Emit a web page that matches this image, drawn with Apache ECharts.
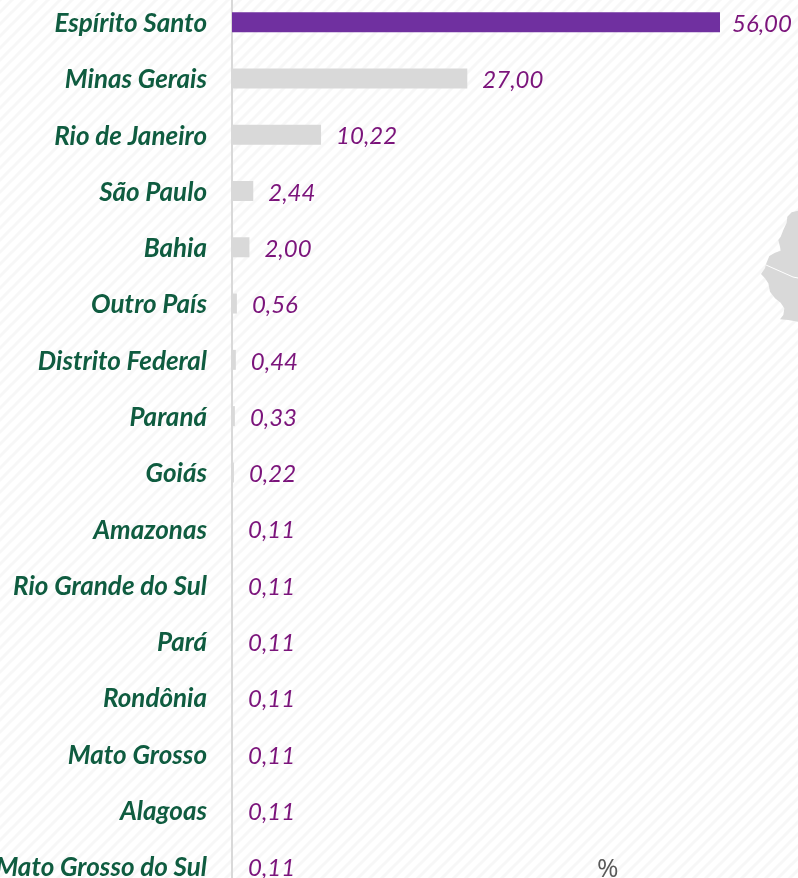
<!DOCTYPE html>
<html><head><meta charset="utf-8">
<style>html,body{margin:0;padding:0;background:#fff}#c{width:798px;height:878px}</style>
<script src="https://cdn.jsdelivr.net/npm/echarts@6/dist/echarts.min.js"></script></head>
<body><div id="c"></div>
<script>
const categories = ['Espírito Santo','Minas Gerais','Rio de Janeiro','São Paulo','Bahia','Outro País','Distrito Federal','Paraná','Goiás','Amazonas','Rio Grande do Sul','Pará','Rondônia','Mato Grosso','Alagoas','Mato Grosso do Sul'];
const values = [56.00,27.00,10.22,2.44,2.00,0.56,0.44,0.33,0.22,0.11,0.11,0.11,0.11,0.11,0.11,0.11];

const p = document.createElement('canvas'); p.width = 12; p.height = 12;
const g = p.getContext('2d');
g.fillStyle = '#fff'; g.fillRect(0,0,12,12);
g.strokeStyle = '#f7f7f7'; g.lineWidth = 3;
[[-6,6,6,-6],[0,12,12,0],[6,18,18,6]].forEach(l=>{g.beginPath();g.moveTo(l[0],l[1]);g.lineTo(l[2],l[3]);g.stroke();});

const mapOutline = [[444,92],[425,97],[412,110],[410,128],[400,150],[392,170],[385,180],[390,200],[392,212],[375,218],[358,228],[349,250],[345,265],[333,282],[345,295],[355,310],[360,335],[375,355],[392,368],[403,385],[400,405],[390,418],[415,420],[444,425]].map(q=>[650+q[0]/3,180+q[1]/3]);

const catStyle = {fontFamily:'Lato', fontStyle:'italic', fontWeight:'bold', fontSize:26, color:'#0f5c40', padding:[3,0,0,0]};

const chart = echarts.init(document.getElementById('c'), null, {renderer:'canvas'});
chart.setOption({
  animation:false,
  backgroundColor:{image:p, repeat:'repeat'},
  grid:{left:232, top:-6, width:488, height:900.5, outerBoundsMode:'none'},
  xAxis:{type:'value', min:0, max:56, show:false},
  yAxis:{type:'category', inverse:true, data:categories,
    axisTick:{show:false},
    axisLine:{show:true, lineStyle:{color:'#d9d9d9', width:2}},
    axisLabel:{margin:25, formatter:'{a|{value}}', rich:{a:catStyle}}},
  series:[{type:'bar', data:values.map((v,i)=>({value:v, itemStyle:{color:i===0?'#7030a0':'#d9d9d9'},
      label:i===0?{offset:[-3,2]}:undefined})),
    barWidth:20, silent:true,
    label:{show:true, position:'right', distance:15, offset:[0,2], fontFamily:'Lato', fontStyle:'italic', fontSize:24, color:'#7b147b',
      formatter:o=>o.value.toFixed(2).replace('.',',')}}],
  graphic:[
    {type:'polygon', silent:true, z:0, shape:{points:mapOutline}, style:{fill:'#d9d9d9'}},
    {type:'polyline', silent:true, z:1, shape:{points:[[766,265],[793,277],[798,278]]}, style:{stroke:'#fff', lineWidth:1, fill:null}},
    {type:'text', silent:true, left:597, top:857, style:{text:'%', fontFamily:'Open Sans', fontSize:26, fill:'#595959'}}
  ]
});
</script></body></html>
